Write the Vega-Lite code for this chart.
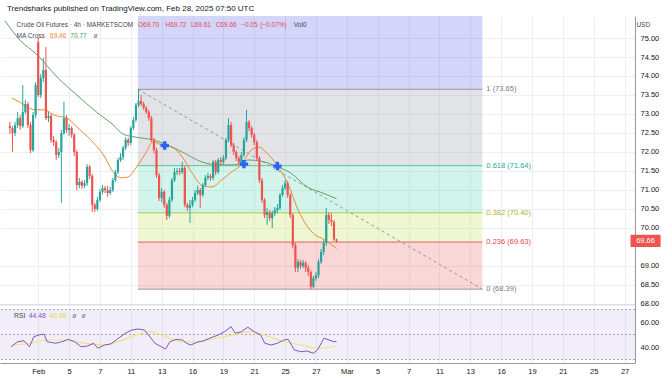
{
  "$schema": "https://vega.github.io/schema/vega-lite/v6.json",
  "width": 635,
  "height": 347,
  "autosize": {"type": "none"},
  "padding": {"left": 0, "top": 16, "right": 37, "bottom": 15},
  "background": "white",
  "title": {"text": "Trendsharks published on TradingView.com, Feb 28, 2025 07:50 UTC", "anchor": "start", "frame": "group", "orient": "top", "offset": 3, "dx": 7, "fontSize": 8, "fontWeight": "normal", "color": "#131722", "font": "Liberation Sans"},
  "config": {"view": {"stroke": null}, "font": "Liberation Sans", "axis": {"labelOverlap": false, "labelFlush": false, "labelSeparation": 0}},
  "datasets": {
    "candles": [
      {"i":0,"o":72.68,"h":72.79,"l":72.47,"c":72.63},{"i":1,"o":72.63,"h":72.68,"l":72.00,"c":72.50},{"i":2,"o":72.50,"h":72.79,"l":72.42,"c":72.71},{"i":3,"o":72.71,"h":73.05,"l":72.63,"c":72.89},{"i":4,"o":72.89,"h":72.97,"l":72.58,"c":72.68},{"i":5,"o":72.68,"h":73.76,"l":72.63,"c":73.05},{"i":6,"o":73.05,"h":73.37,"l":73.00,"c":73.26},{"i":7,"o":73.26,"h":73.32,"l":72.63,"c":72.71},{"i":8,"o":72.71,"h":72.79,"l":71.97,"c":72.05},{"i":9,"o":72.05,"h":73.05,"l":72.00,"c":72.97},
      {"i":10,"o":72.97,"h":73.84,"l":72.89,"c":73.76},{"i":11,"o":74.89,"h":75.00,"l":73.45,"c":73.50},{"i":12,"o":73.50,"h":74.05,"l":73.42,"c":73.95},{"i":13,"o":73.95,"h":74.47,"l":73.84,"c":74.16},{"i":14,"o":74.16,"h":74.76,"l":72.84,"c":72.89},{"i":15,"o":72.89,"h":73.05,"l":72.79,"c":72.95},{"i":16,"o":72.95,"h":73.00,"l":72.24,"c":72.32},{"i":17,"o":72.32,"h":72.42,"l":72.16,"c":72.26},{"i":18,"o":72.26,"h":72.32,"l":71.79,"c":71.92},{"i":19,"o":71.92,"h":72.11,"l":71.84,"c":72.00},
      {"i":20,"o":72.00,"h":72.58,"l":70.66,"c":72.50},{"i":21,"o":72.50,"h":73.32,"l":72.45,"c":72.89},{"i":22,"o":72.89,"h":72.97,"l":72.50,"c":72.58},{"i":23,"o":72.58,"h":72.74,"l":72.42,"c":72.63},{"i":24,"o":72.63,"h":72.68,"l":72.37,"c":72.45},{"i":25,"o":72.45,"h":72.50,"l":71.89,"c":72.00},{"i":26,"o":72.00,"h":72.05,"l":71.00,"c":71.13},{"i":27,"o":71.13,"h":71.32,"l":71.05,"c":71.21},{"i":28,"o":71.21,"h":71.26,"l":71.03,"c":71.11},{"i":29,"o":71.11,"h":71.26,"l":71.05,"c":71.18},
      {"i":30,"o":71.18,"h":71.68,"l":71.11,"c":71.61},{"i":31,"o":71.61,"h":71.66,"l":71.29,"c":71.37},{"i":32,"o":71.37,"h":71.42,"l":70.42,"c":70.61},{"i":33,"o":70.61,"h":70.66,"l":70.42,"c":70.50},{"i":34,"o":70.50,"h":70.82,"l":70.45,"c":70.74},{"i":35,"o":70.74,"h":71.03,"l":70.68,"c":70.95},{"i":36,"o":70.95,"h":71.13,"l":70.89,"c":71.05},{"i":37,"o":71.05,"h":71.11,"l":70.92,"c":71.00},{"i":38,"o":71.00,"h":71.11,"l":70.82,"c":70.92},{"i":39,"o":70.92,"h":71.08,"l":70.87,"c":71.00},
      {"i":40,"o":71.00,"h":71.32,"l":70.95,"c":71.26},{"i":41,"o":71.26,"h":71.53,"l":71.21,"c":71.47},{"i":42,"o":71.47,"h":71.84,"l":71.42,"c":71.79},{"i":43,"o":71.79,"h":71.97,"l":71.74,"c":71.87},{"i":44,"o":71.87,"h":72.16,"l":71.79,"c":72.11},{"i":45,"o":72.11,"h":72.39,"l":72.05,"c":72.32},{"i":46,"o":72.32,"h":72.37,"l":72.16,"c":72.24},{"i":47,"o":72.24,"h":72.68,"l":72.18,"c":72.63},{"i":48,"o":72.63,"h":72.92,"l":72.58,"c":72.84},{"i":49,"o":72.84,"h":73.29,"l":72.79,"c":73.24},
      {"i":50,"o":73.24,"h":73.65,"l":73.18,"c":73.34},{"i":51,"o":73.34,"h":73.50,"l":73.21,"c":73.26},{"i":52,"o":73.26,"h":73.32,"l":73.11,"c":73.16},{"i":53,"o":73.16,"h":73.21,"l":73.00,"c":73.05},{"i":54,"o":73.05,"h":73.11,"l":72.82,"c":72.89},{"i":55,"o":72.89,"h":72.95,"l":72.26,"c":72.32},{"i":56,"o":72.32,"h":72.37,"l":71.97,"c":72.05},{"i":57,"o":72.05,"h":72.11,"l":71.32,"c":71.39},{"i":58,"o":71.39,"h":71.45,"l":70.71,"c":70.79},{"i":59,"o":70.79,"h":71.05,"l":70.68,"c":70.95},
      {"i":60,"o":70.95,"h":71.00,"l":70.53,"c":70.61},{"i":61,"o":70.61,"h":70.66,"l":70.21,"c":70.32},{"i":62,"o":70.32,"h":70.82,"l":70.26,"c":70.74},{"i":63,"o":70.74,"h":71.32,"l":70.68,"c":71.26},{"i":64,"o":71.26,"h":71.58,"l":71.21,"c":71.47},{"i":65,"o":71.47,"h":71.58,"l":71.39,"c":71.50},{"i":66,"o":71.50,"h":71.58,"l":71.39,"c":71.47},{"i":67,"o":71.47,"h":71.74,"l":71.42,"c":71.58},{"i":68,"o":71.58,"h":71.63,"l":70.55,"c":70.61},{"i":69,"o":70.61,"h":70.66,"l":70.45,"c":70.53},
      {"i":70,"o":70.53,"h":70.74,"l":70.13,"c":70.61},{"i":71,"o":70.61,"h":70.82,"l":70.55,"c":70.74},{"i":72,"o":70.74,"h":71.00,"l":70.68,"c":70.92},{"i":73,"o":70.92,"h":71.11,"l":70.87,"c":71.00},{"i":74,"o":71.00,"h":71.05,"l":70.53,"c":70.87},{"i":75,"o":70.87,"h":71.18,"l":70.82,"c":71.13},{"i":76,"o":71.13,"h":71.39,"l":71.08,"c":71.32},{"i":77,"o":71.32,"h":71.45,"l":71.26,"c":71.37},{"i":78,"o":71.37,"h":71.42,"l":71.24,"c":71.32},{"i":79,"o":71.32,"h":71.79,"l":71.26,"c":71.74},
      {"i":80,"o":71.74,"h":71.79,"l":71.39,"c":71.47},{"i":81,"o":71.47,"h":71.84,"l":71.42,"c":71.79},{"i":82,"o":71.79,"h":71.87,"l":71.66,"c":71.74},{"i":83,"o":71.74,"h":71.92,"l":71.68,"c":71.84},{"i":84,"o":71.84,"h":72.37,"l":71.79,"c":72.32},{"i":85,"o":72.32,"h":72.89,"l":72.26,"c":72.71},{"i":86,"o":72.71,"h":72.79,"l":72.13,"c":72.18},{"i":87,"o":72.18,"h":72.24,"l":71.92,"c":72.00},{"i":88,"o":72.00,"h":72.05,"l":71.76,"c":71.84},{"i":89,"o":71.84,"h":71.89,"l":71.66,"c":71.74},
      {"i":90,"o":71.74,"h":72.00,"l":71.68,"c":71.92},{"i":91,"o":71.92,"h":72.39,"l":71.87,"c":72.32},{"i":92,"o":72.32,"h":73.11,"l":72.26,"c":72.79},{"i":93,"o":72.79,"h":72.84,"l":72.55,"c":72.63},{"i":94,"o":72.63,"h":72.68,"l":72.37,"c":72.45},{"i":95,"o":72.45,"h":72.50,"l":72.18,"c":72.26},{"i":96,"o":72.26,"h":72.32,"l":71.76,"c":71.84},{"i":97,"o":71.84,"h":71.89,"l":71.18,"c":71.26},{"i":98,"o":71.26,"h":71.32,"l":70.66,"c":70.74},{"i":99,"o":70.74,"h":70.79,"l":70.26,"c":70.34},
      {"i":100,"o":70.34,"h":70.53,"l":70.08,"c":70.42},{"i":101,"o":70.42,"h":70.47,"l":70.18,"c":70.26},{"i":102,"o":70.26,"h":70.45,"l":70.00,"c":70.39},{"i":103,"o":70.39,"h":70.55,"l":70.32,"c":70.47},{"i":104,"o":70.47,"h":70.63,"l":70.39,"c":70.53},{"i":105,"o":70.53,"h":70.92,"l":70.47,"c":70.87},{"i":106,"o":70.87,"h":71.13,"l":70.82,"c":71.05},{"i":107,"o":71.05,"h":71.26,"l":71.00,"c":71.18},{"i":108,"o":71.18,"h":71.24,"l":70.79,"c":70.87},{"i":109,"o":70.87,"h":70.92,"l":70.26,"c":70.34},
      {"i":110,"o":70.34,"h":70.39,"l":69.47,"c":69.55},{"i":111,"o":69.55,"h":69.61,"l":68.84,"c":68.95},{"i":112,"o":68.95,"h":69.18,"l":68.84,"c":69.11},{"i":113,"o":69.11,"h":69.16,"l":68.92,"c":69.00},{"i":114,"o":69.00,"h":69.16,"l":68.95,"c":69.08},{"i":115,"o":69.08,"h":69.13,"l":68.84,"c":68.95},{"i":116,"o":68.95,"h":69.03,"l":68.74,"c":68.84},{"i":117,"o":68.84,"h":68.89,"l":68.39,"c":68.45},{"i":118,"o":68.45,"h":68.74,"l":68.42,"c":68.68},{"i":119,"o":68.68,"h":68.84,"l":68.61,"c":68.76},
      {"i":120,"o":68.76,"h":69.18,"l":68.68,"c":69.11},{"i":121,"o":69.11,"h":69.45,"l":69.05,"c":69.37},{"i":122,"o":69.37,"h":69.68,"l":69.29,"c":69.61},{"i":123,"o":69.61,"h":70.53,"l":69.53,"c":70.34},{"i":124,"o":70.34,"h":70.42,"l":70.11,"c":70.21},{"i":125,"o":70.21,"h":70.39,"l":70.05,"c":70.16},{"i":126,"o":70.16,"h":70.21,"l":69.66,"c":69.70},{"i":127,"o":69.70,"h":69.72,"l":69.61,"c":69.66}
    ],
    "ma": [
      {"i":0.77,"v":73.42,"s":"fast"},{"i":5.74,"v":73.24,"s":"fast"},{"i":9.57,"v":73.11,"s":"fast"},{"i":13.4,"v":73.11,"s":"fast"},{"i":17.2,"v":72.97,"s":"fast"},{"i":22.2,"v":72.89,"s":"fast"},{"i":26.0,"v":72.66,"s":"fast"},{"i":31.4,"v":72.32,"s":"fast"},{"i":36.4,"v":71.92,"s":"fast"},{"i":40.2,"v":71.47,"s":"fast"},{"i":43.2,"v":71.32,"s":"fast"},{"i":45.9,"v":71.34,"s":"fast"},{"i":49.0,"v":71.58,"s":"fast"},{"i":52.8,"v":71.97,"s":"fast"},{"i":55.5,"v":72.26,"s":"fast"},{"i":59.3,"v":72.18,"s":"fast"},{"i":63.1,"v":72.13,"s":"fast"},{"i":67.0,"v":71.87,"s":"fast"},{"i":70.8,"v":71.45,"s":"fast"},{"i":74.6,"v":71.13,"s":"fast"},{"i":78.5,"v":71.08,"s":"fast"},{"i":82.3,"v":71.26,"s":"fast"},{"i":86.1,"v":71.47,"s":"fast"},{"i":89.9,"v":71.66,"s":"fast"},{"i":93.8,"v":72.05,"s":"fast"},{"i":96.8,"v":72.13,"s":"fast"},{"i":99.5,"v":72.0,"s":"fast"},{"i":104.1,"v":71.63,"s":"fast"},{"i":108.3,"v":71.13,"s":"fast"},{"i":112.1,"v":70.47,"s":"fast"},{"i":117.5,"v":69.89,"s":"fast"},{"i":122.5,"v":69.68,"s":"fast"},{"i":127,"v":69.46,"s":"fast"},
      {"i":-1.9,"v":75.45,"s":"slow"},{"i":3.83,"v":74.95,"s":"slow"},{"i":10.7,"v":74.55,"s":"slow"},{"i":18.4,"v":73.97,"s":"slow"},{"i":26.0,"v":73.5,"s":"slow"},{"i":33.7,"v":73.05,"s":"slow"},{"i":40.2,"v":72.71,"s":"slow"},{"i":44.0,"v":72.47,"s":"slow"},{"i":49.0,"v":72.39,"s":"slow"},{"i":55.5,"v":72.32,"s":"slow"},{"i":62.0,"v":72.16,"s":"slow"},{"i":67.0,"v":72.0,"s":"slow"},{"i":74.6,"v":71.74,"s":"slow"},{"i":81.1,"v":71.66,"s":"slow"},{"i":87.3,"v":71.66,"s":"slow"},{"i":92.6,"v":71.79,"s":"slow"},{"i":97.6,"v":71.76,"s":"slow"},{"i":104.1,"v":71.61,"s":"slow"},{"i":109.1,"v":71.45,"s":"slow"},{"i":115.6,"v":71.08,"s":"slow"},{"i":121.7,"v":70.92,"s":"slow"},{"i":127,"v":70.77,"s":"slow"}
    ],
    "crosses": [{"i":60.2,"v":72.17},{"i":91.0,"v":71.68},{"i":104.0,"v":71.63}],
    "fibzones": [
      {"i1":49.75,"i2":183.7,"lo":73.65,"hi":76.90,"z":"1.618"},
      {"i1":49.75,"i2":183.7,"lo":71.64,"hi":73.65,"z":"1"},
      {"i1":49.75,"i2":183.7,"lo":70.40,"hi":71.64,"z":"0.618"},
      {"i1":49.75,"i2":183.7,"lo":69.63,"hi":70.40,"z":"0.382"},
      {"i1":49.75,"i2":183.7,"lo":68.39,"hi":69.63,"z":"0.236"}
    ],
    "fiblevels": [
      {"i1":49.75,"i2":183.7,"p":73.65,"lv":"1","lab":"1 (73.65)"},
      {"i1":49.75,"i2":183.7,"p":71.64,"lv":"0.618","lab":"0.618 (71.64)"},
      {"i1":49.75,"i2":183.7,"p":70.40,"lv":"0.382","lab":"0.382 (70.40)"},
      {"i1":49.75,"i2":183.7,"p":69.63,"lv":"0.236","lab":"0.236 (69.63)"},
      {"i1":49.75,"i2":183.7,"p":68.39,"lv":"0","lab":"0 (68.39)"}
    ],
    "trend": [{"i":49.75,"p":73.65},{"i":183.7,"p":68.39}],
    "header": [
      {"i":2.6,"p":75.342,"t":"Crude Oil Futures · 4h · MARKETSCOM","k":"dark"},
      {"i":49.8,"p":75.342,"t":"O69.70","k":"red"},
      {"i":60.5,"p":75.342,"t":"H69.72","k":"red"},
      {"i":70.4,"p":75.342,"t":"L69.61","k":"red"},
      {"i":80.0,"p":75.342,"t":"C69.66","k":"red"},
      {"i":89.9,"p":75.342,"t":"−0.05","k":"red"},
      {"i":97.3,"p":75.342,"t":"(−0.07%)","k":"red"},
      {"i":110.4,"p":75.342,"t":"Vol0","k":"dark"},
      {"i":2.6,"p":75.053,"t":"MA Cross","k":"dark"},
      {"i":15.6,"p":75.053,"t":"69.46","k":"orange"},
      {"i":23.5,"p":75.053,"t":"70.77","k":"green"},
      {"i":32.5,"p":75.053,"t":"ø","k":"gray"},
      {"i":243.6,"p":75.342,"t":"USD","k":"dark"}
    ],
    "lastprice": [{"i1":241.3,"i2":253.0,"im":247.15,"p":69.66,"lo":69.5,"hi":69.82,"t":"69.66"}],
    "rsiband": [{"lo":30,"hi":70}],
    "rsilevels": [{"v":70},{"v":50},{"v":30}],
    "rsisep": [{"v":73.6}],
    "rsi": [
      {"i":0.5,"v":40.2},{"i":3.0,"v":44.2},{"i":5.5,"v":45.0},{"i":7.6,"v":40.2},{"i":9.3,"v":48.2},{"i":11.2,"v":49.6},{"i":13.2,"v":50.4},{"i":14.5,"v":44.2},{"i":17.8,"v":43.0},{"i":20.2,"v":44.2},{"i":22.7,"v":46.1},{"i":25.2,"v":44.2},{"i":27.7,"v":40.2},{"i":30.1,"v":40.8},{"i":32.6,"v":43.0},{"i":34.2,"v":39.0},{"i":36.7,"v":41.6},{"i":39.2,"v":42.4},{"i":41.6,"v":46.1},{"i":44.9,"v":51.0},{"i":47.4,"v":53.6},{"i":49.8,"v":54.4},{"i":52.3,"v":53.6},{"i":53.9,"v":49.6},{"i":56.4,"v":43.0},{"i":58.9,"v":40.2},{"i":60.5,"v":38.4},{"i":62.2,"v":44.2},{"i":64.6,"v":46.1},{"i":67.1,"v":45.6},{"i":68.7,"v":43.0},{"i":70.3,"v":41.6},{"i":72.8,"v":43.8},{"i":75.3,"v":45.0},{"i":78.6,"v":47.8},{"i":81.0,"v":49.6},{"i":83.5,"v":52.3},{"i":86.0,"v":56.3},{"i":87.6,"v":51.0},{"i":90.0,"v":52.3},{"i":92.5,"v":55.8},{"i":95.0,"v":52.3},{"i":97.5,"v":49.6},{"i":99.1,"v":43.0},{"i":101.6,"v":41.6},{"i":104.0,"v":43.0},{"i":106.5,"v":45.6},{"i":108.2,"v":46.1},{"i":110.6,"v":37.6},{"i":113.1,"v":36.2},{"i":115.5,"v":36.8},{"i":118.0,"v":35.0},{"i":119.6,"v":37.6},{"i":122.1,"v":47.0},{"i":124.2,"v":45.6},{"i":125.9,"v":44.2},{"i":127.0,"v":44.48}
    ],
    "rsima": [
      {"i":0.5,"v":41.6},{"i":8.0,"v":43.0},{"i":14.5,"v":45.6},{"i":21.0,"v":45.6},{"i":27.7,"v":43.5},{"i":35.9,"v":41.6},{"i":40.8,"v":43.5},{"i":47.4,"v":48.2},{"i":54.7,"v":52.3},{"i":60.5,"v":48.2},{"i":67.1,"v":44.2},{"i":73.6,"v":44.2},{"i":80.2,"v":47.0},{"i":86.8,"v":49.6},{"i":93.3,"v":52.3},{"i":99.9,"v":48.8},{"i":106.5,"v":44.2},{"i":113.1,"v":41.6},{"i":119.6,"v":39.0},{"i":127.0,"v":40.8}
    ],
    "rsiheader": [
      {"i":1.6,"v":64.8,"t":"RSI","k":"dark"},
      {"i":7.3,"v":64.8,"t":"44.48","k":"purple"},
      {"i":15.4,"v":64.8,"t":"40.88","k":"yellow"},
      {"i":24.2,"v":64.8,"t":"ø","k":"gray"},
      {"i":27.8,"v":64.8,"t":"ø","k":"gray"}
    ]
  },
  "layer": [
    {
      "layer": [
        {
          "data": {"name": "fibzones"},
          "mark": {"type": "rect", "opacity": 0.27, "clip": true},
          "encoding": {
            "x": {"field": "i1", "type": "quantitative", "scale": {"domain": [-1.91, 241.1], "nice": false, "zero": false},
              "axis": {"orient": "bottom", "values": [11,23,35,47,59,71,83,95,107,119,131,143,155,167,179,191,203,215,227,239], "tickCount": 40,
                "labelExpr": "['Feb','5','7','11','13','16','19','21','25','27','Mar','5','7','11','13','16','19','21','25','27'][round((datum.value-11)/12)]",
                "grid": true, "gridColor": "#eceff4", "gridWidth": 1, "domain": true, "domainColor": "#9598a1", "ticks": false,
                "labelPadding": 4, "labelFontSize": 7.5, "labelColor": "#131722", "labelFont": "Liberation Sans", "title": null, "labelFlush": false, "labelOverlap": false, "labelSeparation": 0}},
            "x2": {"field": "i2"},
            "y": {"field": "lo", "type": "quantitative", "scale": {"domain": [66.447, 75.579], "nice": false, "zero": false},
              "axis": {"orient": "right", "values": [68,68.5,69,70,70.5,71,71.5,72,72.5,73,73.5,74,74.5,75], "tickCount": 30, "format": ".2f",
                "grid": true, "gridColor": "#eceff4", "gridWidth": 1, "domain": true, "domainColor": "#9598a1", "ticks": false,
                "labelPadding": 5, "labelFontSize": 7.5, "labelColor": "#131722", "labelFont": "Liberation Sans", "labelBaseline": "middle", "labelFlush": false, "labelOverlap": false,
                "title": null}},
            "y2": {"field": "hi"},
            "color": {"field": "z", "type": "nominal", "legend": null,
              "scale": {"domain": ["1.618","1","0.618","0.382","0.236"], "range": ["#5c63e8","#9598a1","#5cd6b2","#c2e05a","#e86a6a"]}}
          }
        },
        {
          "data": {"name": "fiblevels"},
          "mark": {"type": "rule", "strokeWidth": 1},
          "encoding": {
            "x": {"field": "i1", "type": "quantitative", "scale": {"domain": [-1.91, 241.1], "nice": false, "zero": false}},
            "x2": {"field": "i2"},
            "y": {"field": "p", "type": "quantitative", "scale": {"domain": [66.447, 75.579], "nice": false, "zero": false}},
            "color": {"field": "lv", "type": "nominal", "legend": null,
              "scale": {"domain": ["1","0.618","0.382","0.236","0"], "range": ["#9598a1","#5cc49f","#a9cc45","#e06060","#9e9a9a"]}}
          }
        },
        {
          "data": {"name": "fiblevels"},
          "mark": {"type": "text", "align": "left", "baseline": "middle", "dx": 4, "fontSize": 7.5, "font": "Liberation Sans"},
          "encoding": {
            "x": {"field": "i2", "type": "quantitative", "scale": {"domain": [-1.91, 241.1], "nice": false, "zero": false}},
            "y": {"field": "p", "type": "quantitative", "scale": {"domain": [66.447, 75.579], "nice": false, "zero": false}},
            "text": {"field": "lab"},
            "color": {"field": "lv", "type": "nominal", "legend": null,
              "scale": {"domain": ["1","0.618","0.382","0.236","0"], "range": ["#787b86","#22ab94","#a5b82c","#e04848","#787b86"]}}
          }
        },
        {
          "data": {"name": "trend"},
          "mark": {"type": "line", "color": "#9598a1", "strokeWidth": 1, "strokeDash": [3, 3]},
          "encoding": {
            "x": {"field": "i", "type": "quantitative", "scale": {"domain": [-1.91, 241.1], "nice": false, "zero": false}},
            "y": {"field": "p", "type": "quantitative", "scale": {"domain": [66.447, 75.579], "nice": false, "zero": false}}
          }
        },
        {
          "data": {"name": "ma"},
          "mark": {"type": "line", "strokeWidth": 1, "interpolate": "monotone"},
          "encoding": {
            "x": {"field": "i", "type": "quantitative", "scale": {"domain": [-1.91, 241.1], "nice": false, "zero": false}},
            "y": {"field": "v", "type": "quantitative", "scale": {"domain": [66.447, 75.579], "nice": false, "zero": false}},
            "color": {"field": "s", "type": "nominal", "legend": null, "scale": {"domain": ["fast","slow"], "range": ["#f0892b","#5ea562"]}}
          }
        },
        {
          "data": {"name": "candles"},
          "mark": {"type": "rule", "strokeWidth": 1},
          "encoding": {
            "x": {"field": "i", "type": "quantitative", "scale": {"domain": [-1.91, 241.1], "nice": false, "zero": false}},
            "y": {"field": "l", "type": "quantitative", "scale": {"domain": [66.447, 75.579], "nice": false, "zero": false}},
            "y2": {"field": "h"},
            "color": {"condition": {"test": "datum.c >= datum.o", "value": "#26a69a"}, "value": "#ef5350"}
          }
        },
        {
          "data": {"name": "candles"},
          "mark": {"type": "bar", "size": 2.2},
          "encoding": {
            "x": {"field": "i", "type": "quantitative", "scale": {"domain": [-1.91, 241.1], "nice": false, "zero": false}},
            "y": {"field": "o", "type": "quantitative", "scale": {"domain": [66.447, 75.579], "nice": false, "zero": false}},
            "y2": {"field": "c"},
            "color": {"condition": {"test": "datum.c >= datum.o", "value": "#26a69a"}, "value": "#ef5350"}
          }
        },
        {
          "data": {"name": "crosses"},
          "mark": {"type": "point", "shape": "cross", "filled": true, "size": 70, "color": "#2962ff", "opacity": 1},
          "encoding": {
            "x": {"field": "i", "type": "quantitative", "scale": {"domain": [-1.91, 241.1], "nice": false, "zero": false}},
            "y": {"field": "v", "type": "quantitative", "scale": {"domain": [66.447, 75.579], "nice": false, "zero": false}}
          }
        },
        {
          "data": {"name": "header"},
          "mark": {"type": "text", "align": "left", "baseline": "middle", "fontSize": 6.5, "font": "Liberation Sans"},
          "encoding": {
            "x": {"field": "i", "type": "quantitative", "scale": {"domain": [-1.91, 241.1], "nice": false, "zero": false}},
            "y": {"field": "p", "type": "quantitative", "scale": {"domain": [66.447, 75.579], "nice": false, "zero": false}},
            "text": {"field": "t"},
            "color": {"field": "k", "type": "nominal", "legend": null,
              "scale": {"domain": ["dark","red","orange","green","gray"], "range": ["#434651","#e8474c","#f0892b","#4f9d55","#787b86"]}}
          }
        },
        {
          "data": {"name": "lastprice"},
          "mark": {"type": "rect", "color": "#ef5350", "cornerRadius": 1},
          "encoding": {
            "x": {"field": "i1", "type": "quantitative", "scale": {"domain": [-1.91, 241.1], "nice": false, "zero": false}},
            "x2": {"field": "i2"},
            "y": {"field": "lo", "type": "quantitative", "scale": {"domain": [66.447, 75.579], "nice": false, "zero": false}},
            "y2": {"field": "hi"}
          }
        },
        {
          "data": {"name": "lastprice"},
          "mark": {"type": "text", "color": "white", "fontSize": 7.5, "font": "Liberation Sans", "align": "center", "baseline": "middle"},
          "encoding": {
            "x": {"field": "im", "type": "quantitative", "scale": {"domain": [-1.91, 241.1], "nice": false, "zero": false}},
            "y": {"field": "p", "type": "quantitative", "scale": {"domain": [66.447, 75.579], "nice": false, "zero": false}},
            "text": {"field": "t"}
          }
        }
      ],
      "resolve": {"scale": {"color": "independent"}}
    },
    {
      "layer": [
        {
          "data": {"name": "rsiband"},
          "mark": {"type": "rect", "color": "#7e57c2", "opacity": 0.1},
          "encoding": {
            "y": {"field": "lo", "type": "quantitative", "scale": {"domain": [27.2, 304.8], "nice": false, "zero": false},
              "axis": {"orient": "right", "values": [40, 60], "tickCount": 30, "format": ".2f", "grid": false, "domain": false, "ticks": false,
                "labelPadding": 5, "labelFontSize": 7.5, "labelColor": "#131722", "labelFont": "Liberation Sans", "labelBaseline": "middle", "title": null}},
            "y2": {"field": "hi"}
          }
        },
        {
          "data": {"name": "rsilevels"},
          "mark": {"type": "rule", "color": "#9598a1", "strokeWidth": 0.8, "strokeDash": [2, 2]},
          "encoding": {
            "y": {"field": "v", "type": "quantitative", "scale": {"domain": [27.2, 304.8], "nice": false, "zero": false}}
          }
        },
        {
          "data": {"name": "rsisep"},
          "mark": {"type": "rule", "color": "#d1d4dc", "strokeWidth": 1},
          "encoding": {
            "y": {"field": "v", "type": "quantitative", "scale": {"domain": [27.2, 304.8], "nice": false, "zero": false}}
          }
        },
        {
          "data": {"name": "rsima"},
          "mark": {"type": "line", "color": "#f2e27a", "strokeWidth": 1.2, "interpolate": "monotone"},
          "encoding": {
            "x": {"field": "i", "type": "quantitative", "scale": {"domain": [-1.91, 241.1], "nice": false, "zero": false},
              "axis": {"orient": "bottom", "values": [11,23,35,47,59,71,83,95,107,119,131,143,155,167,179,191,203,215,227,239], "tickCount": 40,
                "labelExpr": "['Feb','5','7','11','13','16','19','21','25','27','Mar','5','7','11','13','16','19','21','25','27'][round((datum.value-11)/12)]",
                "grid": true, "gridColor": "#eceff4", "gridWidth": 1, "domain": true, "domainColor": "#9598a1", "ticks": false,
                "labelPadding": 4, "labelFontSize": 7.5, "labelColor": "#131722", "labelFont": "Liberation Sans", "title": null, "labelFlush": false, "labelOverlap": false, "labelSeparation": 0}},
            "y": {"field": "v", "type": "quantitative", "scale": {"domain": [27.2, 304.8], "nice": false, "zero": false}}
          }
        },
        {
          "data": {"name": "rsi"},
          "mark": {"type": "line", "color": "#7e57c2", "strokeWidth": 1},
          "encoding": {
            "x": {"field": "i", "type": "quantitative", "scale": {"domain": [-1.91, 241.1], "nice": false, "zero": false}},
            "y": {"field": "v", "type": "quantitative", "scale": {"domain": [27.2, 304.8], "nice": false, "zero": false}}
          }
        },
        {
          "data": {"name": "rsiheader"},
          "mark": {"type": "text", "align": "left", "baseline": "middle", "fontSize": 6.8, "font": "Liberation Sans"},
          "encoding": {
            "x": {"field": "i", "type": "quantitative", "scale": {"domain": [-1.91, 241.1], "nice": false, "zero": false}},
            "y": {"field": "v", "type": "quantitative", "scale": {"domain": [27.2, 304.8], "nice": false, "zero": false}},
            "text": {"field": "t"},
            "color": {"field": "k", "type": "nominal", "legend": null,
              "scale": {"domain": ["dark","purple","yellow","gray"], "range": ["#434651","#7e57c2","#e8d44d","#787b86"]}}
          }
        }
      ],
      "resolve": {"scale": {"color": "independent"}}
    }
  ],
  "resolve": {"scale": {"y": "independent", "color": "independent"}, "axis": {"y": "independent"}}
}
